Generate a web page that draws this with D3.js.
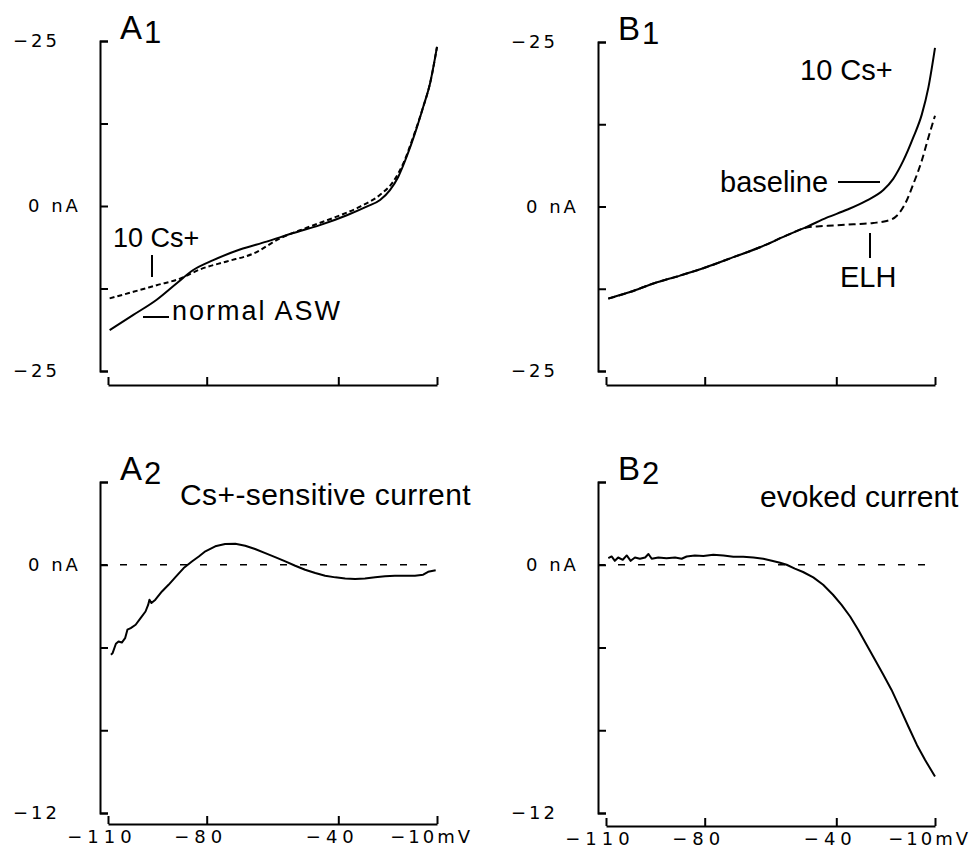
<!DOCTYPE html>
<html>
<head>
<meta charset="utf-8">
<script src="https://cdn.jsdelivr.net/npm/d3@7"></script>
<style>
  body { margin: 0; background: #fff; }
  svg { display: block; background: #fff; }
  .lbl { font-family: "Liberation Sans", Arial, Helvetica, sans-serif; fill: #000; }
  .tk { font-family: "DejaVu Sans", sans-serif; font-size: 18px; letter-spacing: 3px; fill: #000; }
  .tk.v { letter-spacing: 5px; }
  .tk.unit { letter-spacing: 3px; }
</style>
</head>
<body>
<svg id="fig" width="976" height="848"></svg>
<script>
// ---- Voltage-clamp I-V data: membrane potential (mV) and current (nA) ----

// A1: normal ASW vs 10 mM Cs+
const a1AswV = [-109.5, -102.3, -95.2, -89.1, -84.1, -78.0, -69.9, -61.8, -53.7, -45.6, -37.4, -31.4, -27.3, -24.3, -21.8, -19.2, -16.7, -14.2, -12.1, -10];
const a1AswI = [-18.8, -16.5, -14.2, -11.7, -9.7, -8.2, -6.6, -5.4, -4.1, -2.9, -1.4, -0.1, 0.9, 2.4, 4.4, 7.5, 11.0, 15.0, 18.6, 24.1];
const a1CsV  = [-109.5, -102.3, -95.2, -88.1, -82.0, -73.9, -65.8, -57.7, -49.6, -41.5, -33.4, -27.3, -23.3, -20.2, -17.2, -14.2, -12.1, -10];
const a1CsI  = [-14.0, -13.0, -12.0, -11.0, -9.6, -8.4, -7.2, -4.9, -3.3, -1.8, -0.1, 1.7, 3.7, 6.5, 10.5, 15.0, 18.6, 24.1];

// B1: baseline vs ELH, both in 10 mM Cs+
const b1BaseV = [-109.3, -102.7, -95.6, -87.5, -79.4, -71.3, -63.2, -55.1, -49.0, -42.9, -36.8, -30.8, -25.7, -22.7, -19.6, -16.6, -14.0, -12.0, -10];
const b1BaseI = [-14.0, -13.0, -11.7, -10.5, -9.2, -7.7, -6.2, -4.4, -3.1, -1.7, -0.5, 0.9, 2.5, 4.2, 7.0, 10.5, 14.0, 18.1, 24.1];
const b1ElhV  = [-109.3, -102.7, -95.6, -87.5, -79.4, -71.3, -63.2, -55.1, -49.0, -45.0, -40.9, -34.8, -28.8, -24.7, -21.6, -19.1, -16.6, -14.0, -12.0, -10];
const b1ElhI  = [-14.0, -13.0, -11.7, -10.5, -9.2, -7.7, -6.2, -4.4, -3.2, -3.0, -2.9, -2.7, -2.5, -2.2, -1.4, 0.4, 3.4, 7.0, 10.5, 13.8];

// A2: Cs+-sensitive difference current
const a2V = [-109.1, -108.6, -107.6, -106.8, -105.8, -104.8, -104.1, -103.1, -101.6, -100.1, -98.6, -97.8, -97.4, -96.8, -95.6, -93.6, -91.6, -89.5, -87.0, -84.5, -82.4, -80.4, -77.4, -74.4, -71.3, -68.3, -65.3, -62.2, -59.2, -56.1, -53.1, -50.1, -47.0, -44.0, -40.9, -37.9, -34.9, -31.9, -28.8, -25.8, -22.8, -19.7, -16.7, -14.2, -12.7, -10.4];
const a2I = [-4.35, -4.27, -3.82, -3.71, -3.76, -3.55, -3.14, -3.06, -2.90, -2.58, -2.26, -1.94, -1.69, -1.85, -1.69, -1.29, -0.97, -0.60, -0.16, 0.16, 0.40, 0.65, 0.89, 1.00, 1.02, 0.92, 0.76, 0.56, 0.37, 0.16, -0.05, -0.24, -0.40, -0.53, -0.61, -0.66, -0.69, -0.66, -0.61, -0.56, -0.53, -0.53, -0.53, -0.48, -0.34, -0.27];

// B2: ELH-evoked difference current
const b2V = [-109.3, -108.3, -107.3, -106.3, -104.9, -103.7, -102.5, -101.2, -99.7, -98.1, -97.1, -96.1, -94.1, -91.6, -89.0, -87.0, -85.5, -83.0, -80.4, -77.4, -74.3, -71.3, -68.3, -65.2, -62.2, -59.6, -57.1, -55.1, -52.6, -50.1, -47.0, -44.0, -41.0, -38.4, -35.8, -33.3, -30.8, -28.2, -25.7, -23.2, -20.6, -18.1, -15.5, -13.0, -10.0];
const b2I = [0.32, 0.40, 0.19, 0.35, 0.24, 0.45, 0.19, 0.35, 0.29, 0.35, 0.52, 0.29, 0.35, 0.32, 0.35, 0.29, 0.40, 0.45, 0.42, 0.48, 0.45, 0.39, 0.39, 0.35, 0.29, 0.19, 0.10, 0.00, -0.19, -0.35, -0.61, -0.97, -1.45, -1.94, -2.50, -3.15, -3.87, -4.60, -5.32, -6.05, -6.94, -7.82, -8.71, -9.44, -10.24];

// ---- Axis ticks and labels ----
const voltTicks = [-110, -80, -40, -10];
const voltLabels = ["−110", "−80", "−40", "−10mV"];
const topCurrentTicks = [25, 12.5, 0, -12.5, -25];
const topLabelValues = [25, 0, -25];
const topLabelTexts = ["−25", "0 nA", "−25"];
const botCurrentTicks = [4, 0, -4, -8, -12];
const botLabelValues = [0, -12];
const botLabelTexts = ["0 nA", "−12"];

const svg = d3.select("#fig");
const pair = (vs, is) => vs.map((v, i) => [v, is[i]]);

function panel(opt) {
  const g = svg.append("g");
  const x = d3.scaleLinear().domain([-110, -10]).range(opt.xRange);
  const y = d3.scaleLinear().domain(opt.yDomain).range(opt.yRange);

  // current axis: bracket with inward ticks
  const ya = g.append("g").attr("transform", `translate(${opt.axisX},0)`)
    .call(d3.axisRight(y).tickValues(opt.yTicks).tickSize(8).tickSizeOuter(8).tickFormat(() => ""));
  ya.selectAll("text").remove();
  ya.selectAll("path,line").attr("stroke", "#000").attr("stroke-width", 2);

  // voltage axis: separate line below with upward ticks
  const xa = g.append("g").attr("transform", `translate(0,${opt.xAxisY})`)
    .call(d3.axisTop(x).tickValues(voltTicks).tickSize(8).tickSizeOuter(0).tickFormat(() => ""));
  xa.selectAll("text").remove();
  xa.selectAll("path,line").attr("stroke", "#000").attr("stroke-width", 2);

  // current tick labels
  opt.yLabelValues.forEach((v, i) => {
    const t = opt.yLabelTexts[i];
    g.append("text").attr("class", "tk")
      .attr("x", opt.axisX - (t.includes("nA") ? 72 : 87))
      .attr("y", y(v) + 6)
      .text(t);
  });

  // voltage tick labels (bottom row only); the unit-bearing last label ends just past its tick
  if (opt.showVoltLabels) {
    voltTicks.forEach((v, i) => {
      const last = i === voltTicks.length - 1;
      g.append("text").attr("class", last ? "tk unit" : "tk v")
        .attr("x", last ? x(v) + 36 : x(v) - 6)
        .attr("y", opt.xAxisY + 19)
        .attr("text-anchor", last ? "end" : "middle")
        .text(voltLabels[i]);
    });
  }

  // panel letter with subscript
  const pl = g.append("text").attr("class", "lbl")
    .attr("x", opt.axisX + 20).attr("y", opt.yRange[0] - 2)
    .style("font-size", "33px");
  pl.append("tspan").text(opt.letter);
  pl.append("tspan").attr("dx", 2).attr("dy", 4).style("font-size", "31px").text(opt.sub);

  return { g, x, y };
}

function trace(p, data, dash, curve) {
  const line = d3.line().x(d => p.x(d[0])).y(d => p.y(d[1])).curve(curve);
  p.g.append("path").datum(data)
    .attr("d", line)
    .attr("fill", "none")
    .attr("stroke", "#000")
    .attr("stroke-width", 2)
    .attr("stroke-linejoin", "round")
    .attr("stroke-dasharray", dash || null);
}

function zeroLine(p, axisX) {
  p.g.append("line")
    .attr("x1", axisX).attr("x2", p.x(-10))
    .attr("y1", p.y(0)).attr("y2", p.y(0))
    .attr("stroke", "#000").attr("stroke-width", 1.6)
    .attr("stroke-dasharray", "7,13");
}

function note(g, txt, x, y, size, spacing) {
  g.append("text").attr("class", "lbl").attr("x", x).attr("y", y)
    .style("font-size", size + "px")
    .style("letter-spacing", (spacing || 0) + "px")
    .text(txt);
}
function mark(g, x1, y1, x2, y2) {
  g.append("line").attr("x1", x1).attr("y1", y1).attr("x2", x2).attr("y2", y2)
    .attr("stroke", "#000").attr("stroke-width", 2);
}

// ---- A1 ----
const pA1 = panel({ axisX: 100, xRange: [108, 437], yRange: [41, 371], yDomain: [25, -25], xAxisY: 385,
  yTicks: topCurrentTicks, yLabelValues: topLabelValues, yLabelTexts: topLabelTexts, letter: "A", sub: "1" });
trace(pA1, pair(a1CsV, a1CsI), "5,3", d3.curveMonotoneX);
trace(pA1, pair(a1AswV, a1AswI), null, d3.curveMonotoneX);
note(pA1.g, "10 Cs+", 113, 247, 27);
mark(pA1.g, 152, 255, 152, 277);
note(pA1.g, "normal ASW", 172, 320, 27, 2);
mark(pA1.g, 143, 317, 169, 317);

// ---- B1 ----
const pB1 = panel({ axisX: 598, xRange: [606, 935], yRange: [42, 371], yDomain: [25, -25], xAxisY: 385,
  yTicks: topCurrentTicks, yLabelValues: topLabelValues, yLabelTexts: topLabelTexts, letter: "B", sub: "1" });
trace(pB1, pair(b1ElhV, b1ElhI), "7,4", d3.curveMonotoneX);
trace(pB1, pair(b1BaseV, b1BaseI), null, d3.curveMonotoneX);
note(pB1.g, "10 Cs+", 800, 80, 29);
note(pB1.g, "baseline", 720, 192, 29);
mark(pB1.g, 838, 182, 880, 182);
note(pB1.g, "ELH", 840, 287, 29);
mark(pB1.g, 870, 233, 870, 258);

// ---- A2 ----
const pA2 = panel({ axisX: 100, xRange: [108, 437], yRange: [482, 813], yDomain: [4, -12], xAxisY: 824,
  yTicks: botCurrentTicks, yLabelValues: botLabelValues, yLabelTexts: botLabelTexts, letter: "A", sub: "2",
  showVoltLabels: true });
zeroLine(pA2, 100);
trace(pA2, pair(a2V, a2I), null, d3.curveLinear);
note(pA2.g, "Cs+-sensitive current", 180, 505, 30, 0.4);

// ---- B2 ----
const pB2 = panel({ axisX: 598, xRange: [606, 935], yRange: [482, 813], yDomain: [4, -12], xAxisY: 826,
  yTicks: botCurrentTicks, yLabelValues: botLabelValues, yLabelTexts: botLabelTexts, letter: "B", sub: "2",
  showVoltLabels: true });
zeroLine(pB2, 598);
trace(pB2, pair(b2V, b2I), null, d3.curveLinear);
note(pB2.g, "evoked current", 760, 507, 30);
</script>
</body>
</html>
